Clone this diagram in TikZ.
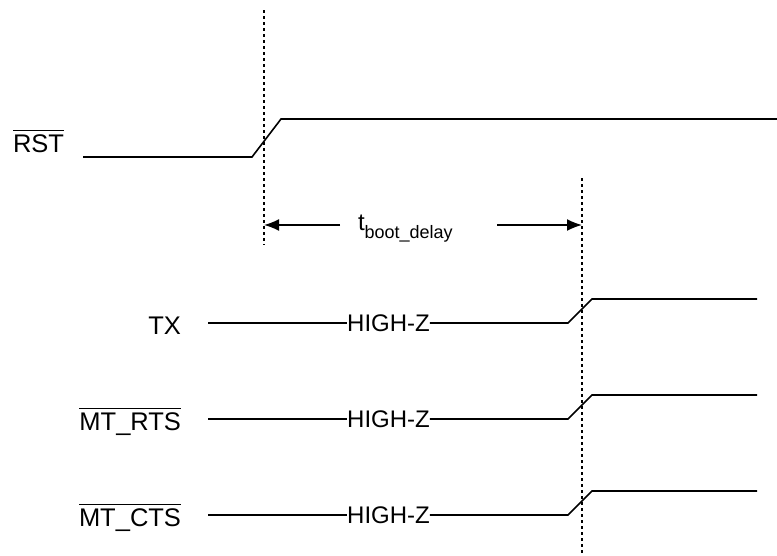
\documentclass[tikz,border=0pt]{standalone}
\usepackage{fontspec}
\setmainfont{Liberation Sans}
\usetikzlibrary{arrows.meta}
\newcommand{\sigfont}{\fontsize{24}{28}\selectfont}
\newcommand{\lblfont}{\fontsize{25.5}{30}\selectfont}
\newcommand{\subfont}{\fontsize{18}{20}\selectfont}
% overlined label, bar sits a bit higher than usual
\newcommand{\barlbl}[1]{$\overline{\mbox{\rule{0pt}{20.5pt}#1}}$}

\begin{document}
\begin{tikzpicture}[
	x=1pt, y=-1pt,
	signal/.style={line width=1.6pt, line join=miter},
	marker/.style={line width=1.2pt, dash pattern=on 3pt off 3pt},
	delayarrow/.style={line width=1.6pt, -{Latex[length=15pt, width=12pt]}},
	label/.style={font=\lblfont},
	every node/.style={inner sep=0pt, outer sep=0pt, font=\sigfont},
]
\useasboundingbox (0,0) rectangle (777,555);
% Input 1: low level (y), input 2: name, input 3: label text.
\def\hizsignal#1(#2)#3{
	\node[label, anchor=base east] at (181, #1+11.5) (#2lbl) {#3};
	\coordinate (#2start) at (208, #1);
	\node (#2hiz) at (388.5, #1) {HIGH-Z};
	\coordinate (#2rise) at (568, #1);
	\coordinate (#2top) at (592, #1-24);
	\coordinate (#2end) at (757, #1-24);
	\draw[signal] (#2start) -- (#2hiz.west);
	\draw[signal] (#2hiz.east) -- (#2rise) -- (#2top) -- (#2end);
}
	% reset line
	\node[label, anchor=base west] at (13, 152) (rstlbl) {\barlbl{RST}};
	\coordinate (rststart) at (83, 157);
	\coordinate (rstrise) at (252, 157);
	\coordinate (rsttop) at (281, 119);
	\coordinate (rstend) at (777, 119);
	\draw[signal] (rststart) -- (rstrise) -- (rsttop) -- (rstend);

	% markers
	\coordinate (markAtop) at (264, 10);
	\coordinate (markAbot) at (264, 245);
	\coordinate (markBtop) at (582, 178);
	\coordinate (markBbot) at (582, 555);
	\draw[marker] (markAtop) -- (markAbot);
	\draw[marker] (markBtop) -- (markBbot);

	% boot delay
	\node[anchor=base west] at (358, 230) (tboot)
		{t\raisebox{-8pt}{\subfont boot\_delay}};
	\coordinate (arrL) at (340, 225);
	\coordinate (arrR) at (497, 225);
	\draw[delayarrow] (arrL) -- (markAtop |- arrL);
	\draw[delayarrow] (arrR) -- (markBtop |- arrR);

	\hizsignal{323}(tx){TX}
	\hizsignal{419}(rts){\barlbl{MT\_RTS}}
	\hizsignal{515}(cts){\barlbl{MT\_CTS}}
\end{tikzpicture}
\end{document}
